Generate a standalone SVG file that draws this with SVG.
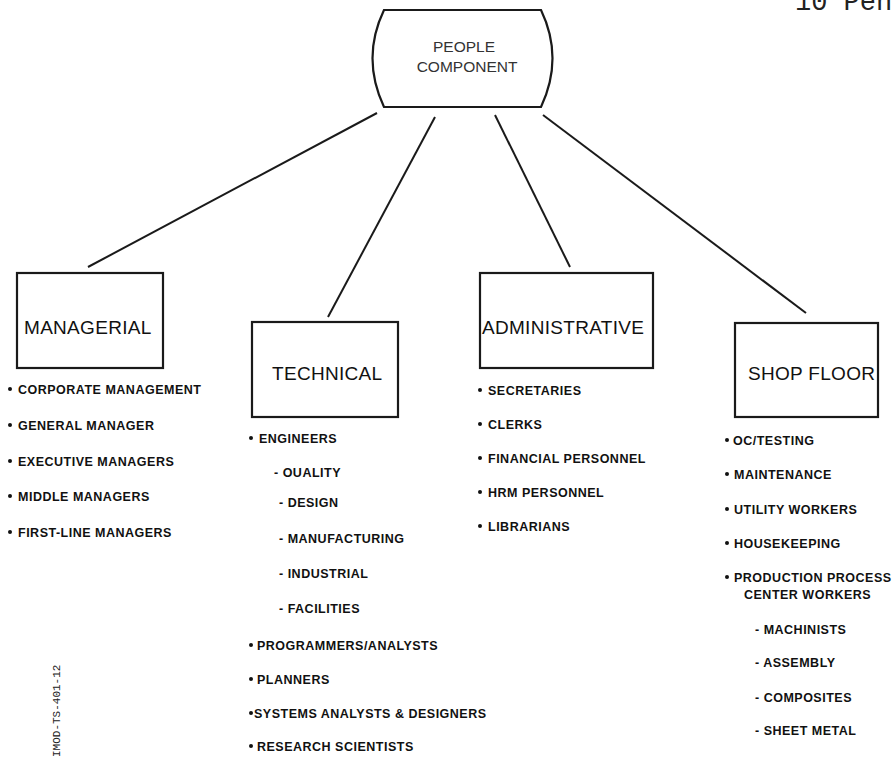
<svg xmlns="http://www.w3.org/2000/svg" width="892" height="757" viewBox="0 0 892 757">
  <style>
    .box { fill: #ffffff; stroke: #1a1a1a; stroke-width: 2.2; }
    .edge { stroke: #1a1a1a; stroke-width: 2; fill: none; }
    .head { font-family: "Liberation Sans", Arial, sans-serif; font-size: 19px; fill: #111; letter-spacing: 0.3px; }
    .root { font-family: "Liberation Sans", Arial, sans-serif; font-size: 15.5px; fill: #333; text-anchor: middle; }
    .item { font-family: "Liberation Sans", Arial, sans-serif; font-size: 12.5px; font-weight: bold; fill: #111; letter-spacing: 0.5px; }
    .dot { fill: #111; }
    .mono { font-family: "Liberation Mono", "Courier New", monospace; fill: #222; }
  </style>
  <rect width="892" height="757" fill="#ffffff"/>

  <text class="mono" x="795" y="10" font-size="27">10 Pen</text>

  <g id="connectors">
    <line class="edge" x1="377" y1="113" x2="88" y2="267"/>
    <line class="edge" x1="435" y1="117" x2="328" y2="317"/>
    <line class="edge" x1="495" y1="115" x2="570" y2="267"/>
    <line class="edge" x1="543" y1="115" x2="806" y2="313"/>
  </g>

  <g id="people-component">
    <path class="box" d="M384,10 L541,10 Q564,58 541,107 L384,107 Q361,58 384,10 Z"/>
    <text class="root" x="464" y="52">PEOPLE</text>
    <text class="root" x="467" y="72">COMPONENT</text>
  </g>

  <g id="managerial">
    <rect class="box" x="17" y="273" width="146" height="95"/>
    <text class="head" x="24" y="334">MANAGERIAL</text>
    <g class="item">
      <circle class="dot" cx="10" cy="389" r="2"/><text x="18" y="393.5">CORPORATE MANAGEMENT</text>
      <circle class="dot" cx="10" cy="425" r="2"/><text x="18" y="429.5">GENERAL MANAGER</text>
      <circle class="dot" cx="10" cy="461" r="2"/><text x="18" y="465.5">EXECUTIVE MANAGERS</text>
      <circle class="dot" cx="10" cy="496" r="2"/><text x="18" y="500.5">MIDDLE MANAGERS</text>
      <circle class="dot" cx="10" cy="532" r="2"/><text x="18" y="536.5">FIRST-LINE MANAGERS</text>
    </g>
  </g>

  <g id="technical">
    <rect class="box" x="252" y="322" width="146" height="95"/>
    <text class="head" x="272" y="380">TECHNICAL</text>
    <g class="item">
      <circle class="dot" cx="251" cy="438" r="2"/><text x="259" y="442.5">ENGINEERS</text>
      <text x="274" y="476.5">- OUALITY</text>
      <text x="279" y="506.5">- DESIGN</text>
      <text x="279" y="542.5">- MANUFACTURING</text>
      <text x="279" y="577.5">- INDUSTRIAL</text>
      <text x="279" y="612.5">- FACILITIES</text>
      <circle class="dot" cx="251" cy="645" r="2"/><text x="257" y="649.5">PROGRAMMERS/ANALYSTS</text>
      <circle class="dot" cx="251" cy="679" r="2"/><text x="257" y="683.5">PLANNERS</text>
      <circle class="dot" cx="251" cy="713" r="2"/><text x="254" y="717.5">SYSTEMS ANALYSTS &amp; DESIGNERS</text>
      <circle class="dot" cx="251" cy="746" r="2"/><text x="257" y="750.5">RESEARCH SCIENTISTS</text>
    </g>
  </g>

  <g id="administrative">
    <rect class="box" x="480" y="273" width="173" height="95"/>
    <text class="head" x="482" y="334">ADMINISTRATIVE</text>
    <g class="item">
      <circle class="dot" cx="480" cy="390" r="2"/><text x="488" y="394.5">SECRETARIES</text>
      <circle class="dot" cx="480" cy="424" r="2"/><text x="488" y="428.5">CLERKS</text>
      <circle class="dot" cx="480" cy="458" r="2"/><text x="488" y="462.5">FINANCIAL PERSONNEL</text>
      <circle class="dot" cx="480" cy="492" r="2"/><text x="488" y="496.5">HRM PERSONNEL</text>
      <circle class="dot" cx="480" cy="526" r="2"/><text x="488" y="530.5">LIBRARIANS</text>
    </g>
  </g>

  <g id="shop-floor">
    <rect class="box" x="735" y="323" width="143" height="94"/>
    <text class="head" x="748" y="380">SHOP FLOOR</text>
    <g class="item">
      <circle class="dot" cx="727" cy="440" r="2"/><text x="733" y="444.5">OC/TESTING</text>
      <circle class="dot" cx="727" cy="474" r="2"/><text x="734" y="478.5">MAINTENANCE</text>
      <circle class="dot" cx="727" cy="509" r="2"/><text x="734" y="513.5">UTILITY WORKERS</text>
      <circle class="dot" cx="727" cy="543" r="2"/><text x="734" y="547.5">HOUSEKEEPING</text>
      <circle class="dot" cx="727" cy="577" r="2"/><text x="734" y="581.5">PRODUCTION PROCESS</text>
      <text x="744" y="598.5">CENTER WORKERS</text>
      <text x="755" y="633.5">- MACHINISTS</text>
      <text x="755" y="666.5">- ASSEMBLY</text>
      <text x="755" y="701.5">- COMPOSITES</text>
      <text x="755" y="734.5">- SHEET METAL</text>
    </g>
  </g>

  <text class="mono" font-size="11" fill="#444" transform="translate(60,757) rotate(-90)">IMOD-TS-401-12</text>
</svg>
